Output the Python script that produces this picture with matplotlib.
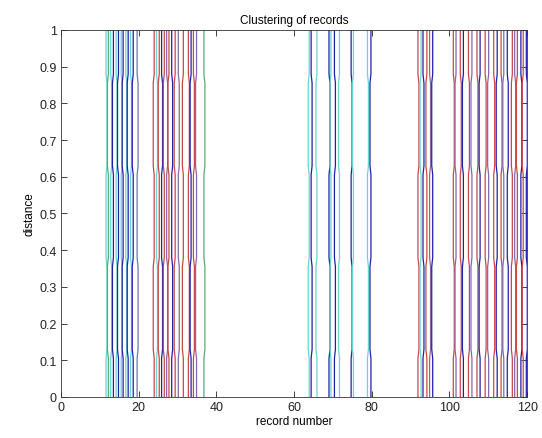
import matplotlib
matplotlib.use("Agg")
import matplotlib.pyplot as plt

plt.rcParams['font.family'] = ['Liberation Sans', 'DejaVu Sans']

group1_x = [11.6, 12.2, 12.8, 13.5, 14.2, 14.8, 15.5, 16.0, 16.7, 17.3, 17.9, 18.6, 19.6]
group1_c = ['c', 'g', 'c', 'b', 'c', 'b', 'c', 'b', 'c', 'b', 'c', 'b', 's']
group2_x = [24.0, 24.6, 25.3, 25.9, 26.6, 27.2, 27.8, 28.5, 29.4, 30.2, 31.5, 32.8, 33.5, 34.1, 34.9, 36.8]
group2_c = ['r', 'c', 'r', 'b', 'r', 'm', 'r', 'b', 'r', 'm', 'r', 'r', 'b', 'r', 'm', 'g']
group3_x = [63.9, 64.4, 65.9, 69.0, 69.5, 70.4, 71.7, 74.7, 75.3, 78.9, 79.8]
group3_c = ['c', 'b', 'c', 'b', 'c', 'b', 'c', 'b', 'c', 'c', 'b']
group4_x = [91.9, 92.7, 93.2, 94.2, 94.9, 95.7, 101.0, 101.7, 102.8, 103.6, 104.9, 105.8, 107.1,
            107.9, 109.2, 110.1, 111.4, 112.3, 113.3, 114.0, 114.9, 116.2, 116.8, 117.5, 118.4, 119.0, 119.8]
group4_c = ['r', 'c', 'b', 'r', 'm', 'b', 'r', 'm', 'r', 'b', 'r', 'm', 'r', 'b', 'r', 'm', 'r',
            'b', 'r', 'm', 'b', 'r', 'm', 'r', 'b', 'r', 'b']

palette = {'b': '#2020a8', 'c': '#6ad4d4', 'r': '#c84848', 'm': '#8468aa',
           'g': '#58a878', 's': '#6878a8'}

# y levels where each line makes a small sideways jog
jog_levels = [0.105, 0.355, 0.605, 0.855]
jog_height = 0.025

fig = plt.figure(figsize=(5.42, 4.39), dpi=100, facecolor='white')
ax = fig.add_axes([0.1125, 0.0934, 0.86, 0.836])

xs_all = group1_x + group2_x + group3_x + group4_x
cs_all = group1_c + group2_c + group3_c + group4_c
for i, (x, c) in enumerate(zip(xs_all, cs_all)):
    shift = 0.25 if i % 2 == 0 else -0.25
    px, py = [x], [0.0]
    for k, lv in enumerate(jog_levels):
        cur = x + (shift if k % 2 == 0 else 0.0)
        prev = px[-1]
        px += [prev, cur]
        py += [lv, lv + jog_height]
    px.append(px[-1])
    py.append(1.0)
    ax.plot(px, py, color=palette[c], lw=0.9, solid_capstyle='butt')

ax.set_xlim(0, 120)
ax.set_ylim(0, 1)
ax.set_xticks(range(0, 121, 20))
ax.set_yticks([i / 10 for i in range(11)])
ax.set_yticklabels(['0', '0.1', '0.2', '0.3', '0.4', '0.5', '0.6', '0.7', '0.8', '0.9', '1'])
ax.tick_params(direction='in', top=True, right=True, labelsize=9, length=4, width=0.6,
               colors='#222222', pad=3)
for sp in ax.spines.values():
    sp.set_linewidth(0.6)
    sp.set_color('#333333')

ax.set_title('Clustering of records', fontsize=8.5, pad=5)
ax.set_xlabel('record number', fontsize=8.5, labelpad=1)
ax.set_ylabel('distance', fontsize=8.5, labelpad=3)

fig.savefig('out.png', dpi=100, facecolor='white')
